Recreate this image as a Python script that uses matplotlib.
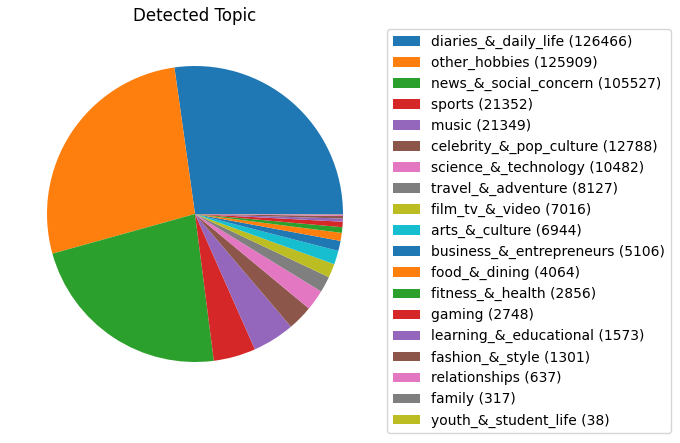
import matplotlib
matplotlib.use("Agg")
import matplotlib.pyplot as plt

topics = ["diaries_&_daily_life", "other_hobbies", "news_&_social_concern", "sports", "music",
          "celebrity_&_pop_culture", "science_&_technology", "travel_&_adventure", "film_tv_&_video",
          "arts_&_culture", "business_&_entrepreneurs", "food_&_dining", "fitness_&_health", "gaming",
          "learning_&_educational", "fashion_&_style", "relationships", "family", "youth_&_student_life"]
counts = [126466, 125909, 105527, 21352, 21349, 12788, 10482, 8127, 7016, 6944, 5106, 4064,
          2856, 2748, 1573, 1301, 637, 317, 38]

fig = plt.figure(figsize=(6.8, 4.43), dpi=100)
cx, cy, half = 195, 214, 148 * 1.25
ax = fig.add_axes([(cx - half)/680, 1 - (cy + half)/443, 2*half/680, 2*half/443])
wedges, _ = ax.pie(counts)
ax.set_title("Detected Topic")
labels = [f"{t} ({c})" for t, c in zip(topics, counts)]
fig.legend(wedges, labels, loc="upper left", bbox_to_anchor=(387/680, 1-29/443),
           borderaxespad=0)
fig.savefig("out.png", dpi=100)
